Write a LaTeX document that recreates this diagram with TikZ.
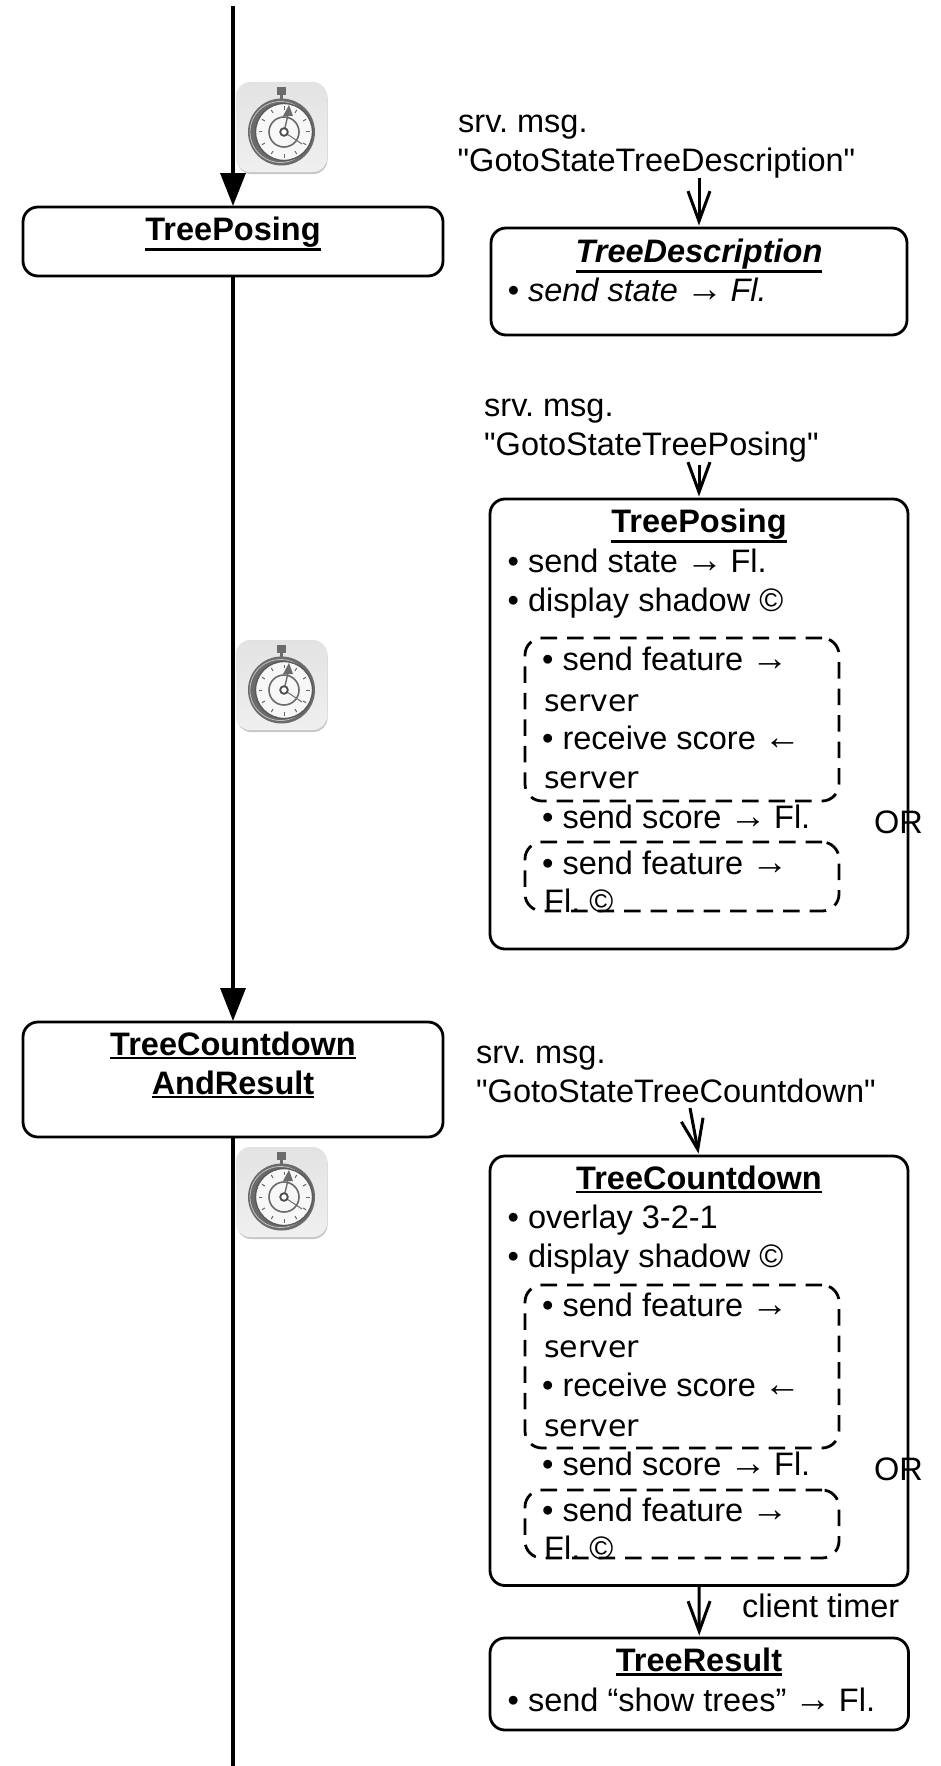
\documentclass[tikz,border=0pt]{standalone}
\usepackage{fontspec}
\setmainfont{Liberation Sans}[Ligatures=TeXOff]
\newfontfamily\fallbackfont{DejaVu Sans}
\usetikzlibrary{arrows.meta}
\definecolor{watchgray}{gray}{0.42}
\frenchspacing
% underlined state title
\newcommand{\statename}[1]{\vtop{\hbox{#1}\kern1.5pt\hrule height 2.6pt}}
% arrows in the running text
\newcommand{\rarr}{{\fontsize{37}{39}\selectfont\kern-1pt →\kern-1.5pt}}
\newcommand{\larr}{{\fontsize{37}{39}\selectfont\kern-1pt ←\kern-1.5pt}}
% stopwatch icon, (#1,#2) is the centre of the dial
\newcommand{\stopwatch}[2]{
    \begin{scope}[shift={(#1,#2)}]
        \fill[black!22, rounded corners=14pt] (-47, -48) rectangle (43.5, 42);
        \shade[top color=black!11, middle color=black!2, bottom color=black!6, rounded corners=14pt] (-48, -50) rectangle (43, 40);
        \fill[watchgray] (-7, -45) rectangle (2, -37);
        \fill[watchgray] (-4, -37) rectangle (-1, -32);
        \fill[watchgray] (-2.5, 0) circle[radius=33.5pt];
        \draw[black!25, line width=0.8pt] (-3.5, 0) circle[radius=30.5pt];
        \fill[black!3, draw=black!65, line width=1.4pt] (0, 0) circle[radius=28.5pt];
        \foreach \a in {0, 30, ..., 330}
            \draw[black!60, line width=1pt] (\a:22pt) -- (\a:25.5pt);
        \draw[watchgray, line width=1.6pt] (0, 0) circle[radius=15pt];
        \draw[black!55, line width=1pt] (0, 0) -- (18, 12);
        \draw[watchgray, line width=1.4pt] (0, 0) -- (4, -17);
        \fill[watchgray] (-1, -16) -- (9, -16) -- (5, -27) -- cycle;
        \draw[black!70, line width=1.8pt, fill=white] (0, 0) circle[radius=3.8pt];
    \end{scope}
}
\begin{document}
\begin{tikzpicture}[x=1pt, y=-1pt]
                \tikzstyle{statebox} = [draw, line width=2.8pt, rounded corners=15pt, inner sep=0pt, outer sep=0pt, anchor=north west]
                \tikzstyle{altbox} = [draw, line width=2.8pt, dash pattern=on 16.5pt off 10pt, rounded corners=17pt, inner sep=0pt, outer sep=0pt, anchor=north west]
                \tikzstyle{label} = [anchor=base west, inner sep=0pt, font=\fontsize{32.5}{39}\selectfont]
                \tikzstyle{title} = [anchor=base, inner sep=0pt, font=\fontsize{32.5}{39}\selectfont\bfseries]
                \tikzstyle{mainline} = [line width=3.4pt, shorten >=1pt, -{Triangle[width=25pt, length=33pt]}]
                \tikzstyle{msgarrow} = [line width=3pt, shorten >=2.5pt, -{Straight Barb[width=22pt, length=30pt, line width=3pt]}]
                \useasboundingbox (0, 0) rectangle (941, 1766);
                % left column
                \node[statebox, minimum width=420pt, minimum height=69pt] (poseleft) at (23, 207) {};
                \node[title] (poselefttitle) at (233, 240) {\statename{TreePosing}};
                \node[statebox, minimum width=420pt, minimum height=115pt] (countleft) at (23, 1022) {};
                \node[title] (countlefttitle) at (233, 1055) {\statename{TreeCountdown}};
                \node[title] (countlefttitleb) at (233, 1094) {\statename{AndResult}};
                \coordinate (linestart) at (233, 6);
                \coordinate (lineend) at (233, 1766);
                \draw[mainline] (linestart) -- (poseleft.north);
                \draw[mainline] (poseleft.south) -- (countleft.north);
                \draw[line width=3.4pt] (countleft.south) -- (lineend);
                \stopwatch{284}{132}
                \stopwatch{284}{690}
                \stopwatch{284}{1197}
                % description state
                \node[label] (descmsga) at (458, 132) {srv. msg.};
                \node[label] (descmsgb) at (457.5, 171) {"GotoStateTreeDescription"};
                \node[statebox, minimum width=416pt, minimum height=107pt] (desc) at (491, 228) {};
                \node[title, font=\fontsize{32.5}{39}\selectfont\bfseries\itshape] (desctitle) at (699, 262) {\statename{TreeDescription}};
                \node[label, font=\fontsize{32.5}{39}\selectfont\itshape] (descstate) at (507.5, 301) {• send state \rarr{} Fl.};
                \coordinate (descfrom) at (699, 178);
                \draw[msgarrow] (descfrom) -- (desc.north);
                % posing state
                \node[label] (posemsga) at (484, 416) {srv. msg.};
                \node[label] (posemsgb) at (484, 455) {"GotoStateTreePosing"};
                \node[statebox, minimum width=418pt, minimum height=450pt] (pose) at (490, 499) {};
                \node[title] (posetitle) at (699, 532) {\statename{TreePosing}};
                \node[label] (posestate) at (507.5, 572) {• send state \rarr{} Fl.};
                \node[label] (poseshadow) at (507.5, 611) {• display shadow ©};
                \node[altbox, minimum width=314pt, minimum height=163pt] (posealta) at (525, 638) {};
                \node[label] (posefeat) at (542, 670) {• send feature \rarr};
                \node[label, font=\fontsize{30}{39}\selectfont\fallbackfont] (posesrva) at (544, 711) {server};
                \node[label] (poserecv) at (542, 749.5) {• receive score \larr};
                \node[label, font=\fontsize{30}{39}\selectfont\fallbackfont] (posesrvb) at (544, 788.5) {server};
                \node[label] (posescore) at (542, 828.5) {• send score \rarr{} Fl.};
                \node[label] (poseor) at (874, 833.5) {OR};
                \node[altbox, minimum width=314pt, minimum height=69pt] (posealtb) at (525, 842) {};
                \node[label] (posefeatb) at (542, 874.5) {• send feature \rarr};
                \node[label] (posefl) at (544, 912) {Fl. ©};
                \coordinate (posefrom) at (699, 465);
                \draw[msgarrow] (posefrom) -- (pose.north);
                % countdown state
                \node[label] (countmsga) at (476, 1063.5) {srv. msg.};
                \node[label] (countmsgb) at (476, 1102.5) {"GotoStateTreeCountdown"};
                \node[statebox, minimum width=418pt, minimum height=429.5pt] (count) at (490, 1156) {};
                \node[title] (counttitle) at (699, 1189) {\statename{TreeCountdown}};
                \node[label] (countoverlay) at (507.5, 1228) {• overlay 3-2-1};
                \node[label] (countshadow) at (507.5, 1267) {• display shadow ©};
                \node[altbox, minimum width=314pt, minimum height=163pt] (countalta) at (525, 1285) {};
                \node[label] (countfeat) at (542, 1316.5) {• send feature \rarr};
                \node[label, font=\fontsize{30}{39}\selectfont\fallbackfont] (countsrva) at (544, 1357) {server};
                \node[label] (countrecv) at (542, 1396) {• receive score \larr};
                \node[label, font=\fontsize{30}{39}\selectfont\fallbackfont] (countsrvb) at (544, 1436) {server};
                \node[label] (countscore) at (542, 1475) {• send score \rarr{} Fl.};
                \node[label] (countor) at (874, 1480.5) {OR};
                \node[altbox, minimum width=314pt, minimum height=68pt] (countaltb) at (525, 1490) {};
                \node[label] (countfeatb) at (542, 1521) {• send feature \rarr};
                \node[label] (countfl) at (544, 1559) {Fl. ©};
                \coordinate (countfrom) at (690, 1108);
                \draw[msgarrow] (countfrom) -- (count.north);
                % result state
                \node[statebox, minimum width=418.5pt, minimum height=92pt] (result) at (490, 1638) {};
                \node[title] (resulttitle) at (699, 1671.5) {\statename{TreeResult}};
                \node[label] (resultshow) at (507.5, 1711) {• send “show trees” \rarr{} Fl.};
                \node[label] (resulttimer) at (742, 1617) {client timer};
                \draw[msgarrow] (count.south) -- (result.north);
            \end{tikzpicture}
\end{document}
